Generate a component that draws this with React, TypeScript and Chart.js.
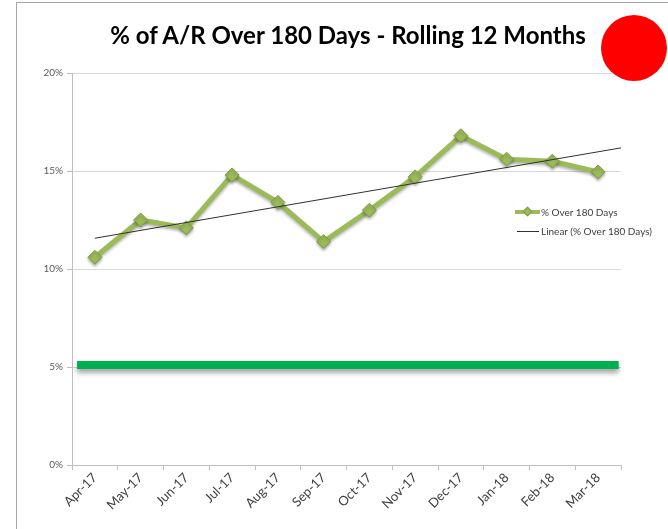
import React, { useEffect, useRef } from "react";
import { Chart, registerables } from "chart.js";

Chart.register(...registerables);

const categories = ["Apr-17", "May-17", "Jun-17", "Jul-17", "Aug-17", "Sep-17", "Oct-17", "Nov-17", "Dec-17", "Jan-18", "Feb-18", "Mar-18"];
const pctOver180 = [10.6, 12.5, 12.1, 14.8, 13.4, 11.4, 13.0, 14.7, 16.8, 15.6, 15.5, 14.95];
const trendX = [0, 11.5];
const trendY = [11.57, 16.18];
const targetX = [-0.39, 11.45];
const targetY = [5.1, 5.1];
const yTicks = [0, 5, 10, 15, 20];

const FONT = "Lato, 'Open Sans', sans-serif";

export default function App() {
  const ref = useRef<HTMLCanvasElement | null>(null);
  useEffect(() => {
    document.body.style.margin = "0";
    const shadowPlugin = {
      id: "shadows",
      beforeDatasetDraw(chart: any, args: any) {
        const ds = chart.data.datasets[args.index];
        if (ds.shadow) {
          const ctx = chart.ctx;
          ctx.save();
          ctx.shadowColor = ds.shadow.color;
          ctx.shadowBlur = ds.shadow.blur;
          ctx.shadowOffsetX = 0;
          ctx.shadowOffsetY = ds.shadow.offsetY;
        }
      },
      afterDatasetDraw(chart: any, args: any) {
        const ds = chart.data.datasets[args.index];
        if (ds.shadow) chart.ctx.restore();
      },
    };
    const chart = new Chart(ref.current as HTMLCanvasElement, {
      type: "line",
      data: {
        labels: categories,
        datasets: [
          {
            label: "Linear (% Over 180 Days)",
            data: trendX.map((x, i) => ({ x, y: trendY[i] })),
            xAxisID: "x2",
            borderColor: "#303030",
            borderWidth: 1,
            pointRadius: 0,
          } as any,
          {
            label: "% Over 180 Days",
            data: pctOver180,
            xAxisID: "x",
            borderColor: "#9bbb59",
            backgroundColor: "#9bbb59",
            borderWidth: 5,
            pointStyle: "rectRot",
            pointRadius: 7,
            pointBorderColor: "#7f9a48",
            pointBorderWidth: 1,
            pointBackgroundColor: "#9bbb59",
            shadow: { color: "rgba(0,0,0,0.3)", blur: 3, offsetY: 2 },
          } as any,
          {
            label: "Target",
            data: targetX.map((x, i) => ({ x, y: targetY[i] })),
            xAxisID: "x2",
            borderColor: "#00b050",
            borderWidth: 8,
            borderCapStyle: "butt",
            pointRadius: 0,
            shadow: { color: "rgba(0,0,0,0.35)", blur: 5, offsetY: 4 },
          } as any,
        ],
      },
      options: {
        animation: false,
        responsive: false,
        maintainAspectRatio: false,
        layout: { padding: { left: 0, right: 47, top: 73, bottom: 0 } },
        plugins: {
          legend: { display: false },
          title: { display: false },
          tooltip: { enabled: false },
        },
        scales: {
          x: {
            type: "category",
            offset: true,
            afterFit(scale: any) {
              scale.height = 64;
            },
            grid: {
              offset: true,
              drawOnChartArea: false,
              drawTicks: true,
              tickLength: 5,
              color: "#bfbfbf",
            },
            border: { color: "#bfbfbf" },
            ticks: {
              autoSkip: false,
              maxRotation: 45,
              minRotation: 45,
              padding: 0,
              color: "#404040",
              font: { family: FONT, size: 13 },
            },
          },
          x2: {
            type: "linear",
            min: -0.5,
            max: 11.5,
            display: false,
          },
          y: {
            min: 0,
            max: 20,
            afterFit(scale: any) {
              scale.width = 72;
            },
            afterBuildTicks(scale: any) {
              scale.ticks = yTicks.map((v) => ({ value: v }));
            },
            grid: {
              color: "#d9d9d9",
              tickLength: 5,
              tickColor: "#bfbfbf",
            },
            border: { color: "#bfbfbf" },
            ticks: {
              padding: 4,
              color: "#595959",
              font: { family: FONT, size: 10 },
              callback: (v: any) => v + "%",
            },
          },
        },
      } as any,
      plugins: [shadowPlugin],
    });
    return () => chart.destroy();
  }, []);

  return (
    <div style={{ position: "relative", width: 668, height: 529, background: "#fff", overflow: "hidden", fontFamily: FONT }}>
      <div style={{ position: "absolute", left: 16, top: 2, width: 700, height: 600, borderLeft: "1px solid #a6a6a6", borderTop: "1px solid #a6a6a6" }} />
      <canvas ref={ref} width={668} height={529} style={{ position: "absolute", left: 0, top: 0 }} />
      <div style={{ position: "absolute", left: 0, width: 696, top: 20, textAlign: "center", fontSize: 24, fontWeight: 700, color: "#000", whiteSpace: "nowrap" }}>
        % of A/R Over 180 Days - Rolling 12 Months
      </div>
      <div style={{ position: "absolute", left: 601, top: 15, width: 66, height: 66, borderRadius: "50%", background: "#ff0000" }} />
      <div style={{ position: "absolute", left: 515, top: 205, fontSize: 10, color: "#404040" }}>
        <div style={{ display: "flex", alignItems: "center", height: 14 }}>
          <div style={{ position: "relative", width: 25, height: 14, marginRight: 1 }}>
            <div style={{ position: "absolute", left: 0, top: 5, width: 25, height: 4, background: "#9bbb59" }} />
            <div style={{ position: "absolute", left: 9, top: 3, width: 7, height: 7, background: "#9bbb59", border: "1px solid #7f9a48", transform: "rotate(45deg)", boxSizing: "border-box" }} />
          </div>
          <span>% Over 180 Days</span>
        </div>
        <div style={{ display: "flex", alignItems: "center", height: 14, marginTop: 5 }}>
          <div style={{ width: 22, height: 1, background: "#303030", marginLeft: 2, marginRight: 2 }} />
          <span>Linear (% Over 180 Days)</span>
        </div>
      </div>
    </div>
  );
}
